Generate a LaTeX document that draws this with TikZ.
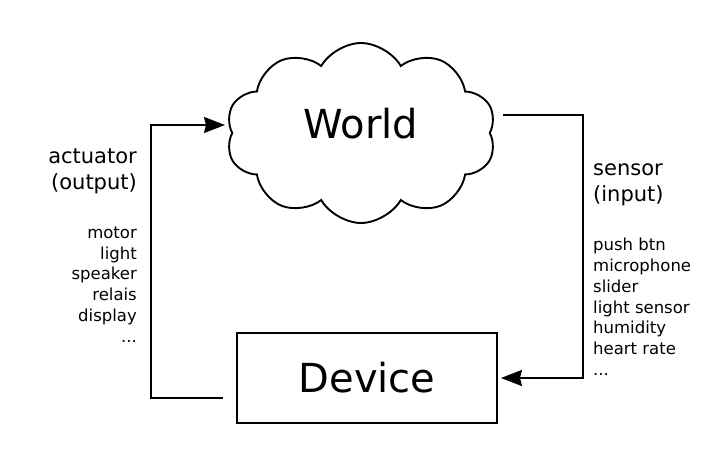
\documentclass[tikz,border=0pt]{standalone}
\usepackage{fontspec}
\setmainfont{DejaVu Sans}
\usetikzlibrary{shapes.symbols,arrows.meta}

\begin{document}
\begin{tikzpicture}[x=1pt, y=-1pt,
        link/.style={line width=1.9pt, -{Stealth[length=21pt, width=16pt, inset=2pt]}},
        big/.style={font=\fontsize{40}{48}\selectfont},
        head/.style={font=\fontsize{21}{26.5}\selectfont, inner sep=0pt},
        items/.style={font=\fontsize{16.5}{20.8}\selectfont, inner sep=0pt}]
        \useasboundingbox (0,0) rectangle (714,461);
        % the world and the device
        \node[cloud, draw, line width=1.9pt, cloud puffs=10, cloud puff arc=120, aspect=1.5,
              minimum width=270pt, minimum height=180pt] (world) at (361,133) {};
        \node[big] (worldtext) at (361,124) {World};
        \node[draw, line width=1.9pt, minimum width=260pt, minimum height=90pt, big] (device) at (367,378) {Device};
        % loose ends of the loop
        \coordinate (actout) at (223,398);
        \coordinate (worldin) at (225,125);
        \coordinate (worldout) at (503,115);
        \draw[link] (actout) -- ++(-72,0) |- (worldin);
        \draw[link, shorten >=3pt] (worldout) -- ++(80,0) |- (device.east);
        % left side (base = last line)
        \node[head, align=right, anchor=base east] (acthead) at (137,189.5) {actuator\\(output)};
        \node[items, align=right, anchor=base east] (actlist) at (137,342.3) {motor\\light\\speaker\\relais\\display\\...};
        % right side
        \node[head, align=left, anchor=base west] (senhead) at (593,201.5) {sensor\\(input)};
        \node[items, align=left, anchor=base west] (senlist) at (593,375.5) {push btn\\microphone\\slider\\light sensor\\humidity\\heart rate\\...};
\end{tikzpicture}
\end{document}
